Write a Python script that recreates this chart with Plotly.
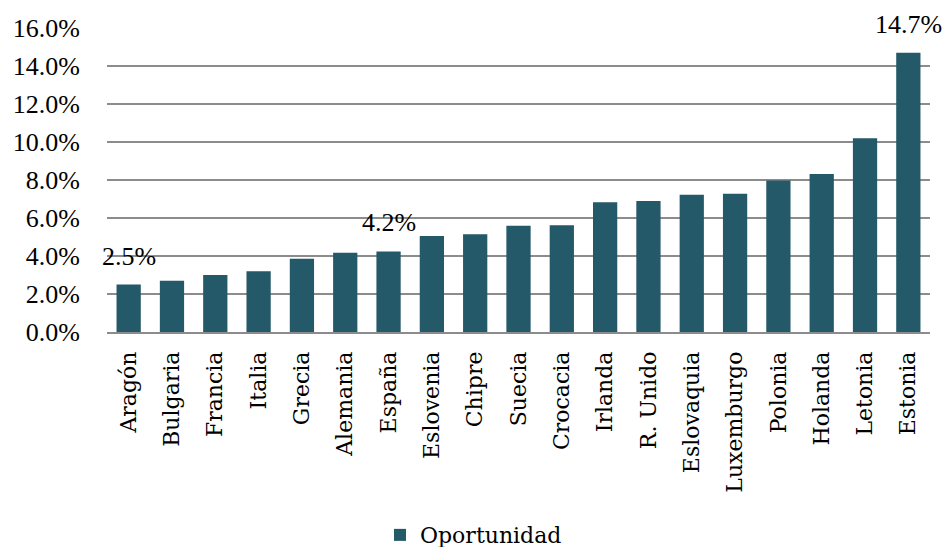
import plotly.graph_objects as go

categories = ["Aragón", "Bulgaria", "Francia", "Italia", "Grecia", "Alemania", "España",
              "Eslovenia", "Chipre", "Suecia", "Crocacia", "Irlanda", "R. Unido",
              "Eslovaquia", "Luxemburgo", "Polonia", "Holanda", "Letonia", "Estonia"]
values = [0.025, 0.027, 0.030, 0.032, 0.0385, 0.0417, 0.0424, 0.0505, 0.0515, 0.0559,
          0.0562, 0.0683, 0.069, 0.0723, 0.0727, 0.0797, 0.0832, 0.102, 0.147]
labels = ["2.5%", None, None, None, None, None, "4.2%", None, None, None, None, None,
          None, None, None, None, None, None, "14.7%"]
y_ticks = [0, 0.02, 0.04, 0.06, 0.08, 0.10, 0.12, 0.14, 0.16]
series_name = "Oportunidad"

bar_color = "#235968"
num_font = dict(family="Liberation Serif", size=26, color="#000000")
txt_font = dict(family="DejaVu Serif", size=22, color="#000000")

fig = go.Figure()
fig.add_trace(go.Bar(
    x=categories, y=values, name=series_name,
    marker=dict(color=bar_color, line=dict(width=0)),
    showlegend=True,
))

for c, v, t in zip(categories, values, labels):
    if t:
        fig.add_annotation(x=c, y=v, text=t, showarrow=False, yanchor="bottom",
                           yshift=12, font=num_font)

fig.update_layout(
    width=947, height=547,
    margin=dict(l=107, r=17, t=28, b=215, autoexpand=False),
    paper_bgcolor="white", plot_bgcolor="white",
    bargap=0.44,
    showlegend=True,
    legend=dict(orientation="h", xref="container", yref="paper",
                x=0.5, xanchor="center", y=-0.668, yanchor="middle",
                font=txt_font, itemwidth=30),
    xaxis=dict(tickangle=-90, tickfont=txt_font, showgrid=False, automargin=False,
               range=[-0.5, len(categories) - 0.5],
               showline=True, linecolor="#8c8c8c", linewidth=1.5,
               ticks="", ticklabelstandoff=9),
    yaxis=dict(range=[0, 0.16], tickvals=y_ticks, automargin=False,
               ticktext=[f"{v*100:.1f}%" for v in y_ticks],
               tickfont=num_font, showgrid=True, gridcolor="#8c8c8c", gridwidth=1.5,
               zeroline=False, showline=False, ticks="", ticklabelstandoff=26),
)

fig.write_html("out.html", config={"displayModeBar": False},
               post_script="document.body.style.margin='0';document.body.style.overflow='hidden';")
